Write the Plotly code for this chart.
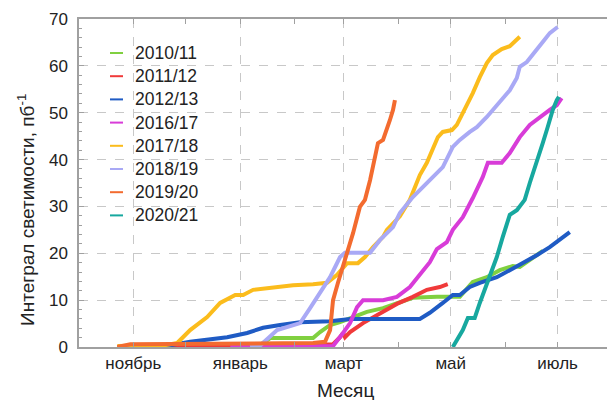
import plotly.graph_objects as go
import pandas as pd

# ---------------- data ----------------
seasons = ["2010/11", "2011/12", "2012/13", "2016/17", "2017/18", "2018/19", "2019/20", "2020/21"]
colors = ["#80d040", "#f03a3a", "#1f5bc4", "#d83cd8", "#fbbc1c", "#a9a9f5", "#f36b2f", "#17a89f"]

month_labels = ["ноябрь", "январь", "март", "май", "июль"]
month_dates = ["2021-11-01", "2022-01-01", "2022-03-01", "2022-05-01", "2022-07-01"]
minor_dates = ["2021-12-01", "2022-02-01", "2022-04-01", "2022-06-01"]

# days counted from 1 October, integrated luminosity in pb^-1
days_1011 = [40.7, 103.3, 109.0, 133.5, 137.5, 143.2, 148.9, 156.3, 164.2, 173.4, 181.3, 190.4, 204.1, 217.2,
             224.6, 232.6, 240.0, 247.4, 251.4, 258.8, 264.5]
lumi_1011 = [0, 0.4, 1.9, 1.9, 3.2, 4.7, 5.3, 6.4, 7.5, 8.3, 9.4, 10.5, 10.7, 10.7,
             13.9, 14.9, 16.4, 17.3, 17.1, 19.0, 20.5]

days_1112 = [21.9, 40.7, 131.8, 144.9, 148.9, 150.6, 151.7, 154.6, 162.0, 170.0, 177.3, 181.3, 190.4,
             198.4, 205.8, 210.3]
lumi_1112 = [0, 0.2, 0.4, 0.6, 2.1, 3.0, 2.1, 3.2, 5.1, 6.8, 8.5, 9.2, 10.7,
             12.2, 12.8, 13.4]

days_1213 = [21.9, 52.1, 63.4, 74.8, 84.5, 95.9, 105.0, 114.7, 126.1, 143.2, 154.6, 194.4, 200.1, 207.5,
             213.2, 217.2, 222.9, 228.6, 238.3, 245.7, 253.1, 261.1, 268.5, 279.9]
lumi_1213 = [0, 0.4, 1.1, 1.7, 2.1, 3.0, 4.1, 4.7, 5.3, 5.5, 6.0, 6.0, 7.3, 9.4,
             11.1, 11.1, 12.8, 13.7, 14.9, 16.4, 17.9, 19.6, 21.3, 24.5]

days_1617 = [86.3, 144.9, 150.6, 154.6, 158.6, 162.0, 173.4, 181.3, 188.7, 194.4, 200.1, 204.1, 209.8,
             213.2, 218.9, 224.6, 230.3, 233.2, 241.1, 245.7, 251.4, 257.1, 262.8, 268.5, 272.5, 275.3]
lumi_1617 = [0, 0.2, 3.0, 5.1, 8.5, 10.0, 10.0, 10.7, 12.8, 15.4, 18.1, 20.9, 22.4,
             25.0, 27.7, 31.8, 36.3, 39.3, 39.3, 41.4, 44.8, 47.4, 49.1, 50.6, 51.6, 53.1]

days_1718 = [21.9, 49.2, 56.0, 63.4, 73.1, 80.5, 89.1, 93.6, 99.3, 110.7, 122.1, 133.5, 141.5, 147.2,
             152.9, 159.1, 163.1, 167.7, 173.4, 175.6, 181.3, 183.0, 188.7, 192.7, 194.4, 198.4, 201.8,
             204.7, 207.5, 212.7, 215.5, 218.9, 224.6, 228.6, 232.6, 236.0, 241.1, 245.7, 251.4]
lumi_1718 = [0.2, 0.4, 0.85, 3.6, 6.4, 9.4, 11.1, 11.1, 12.2, 12.8, 13.2, 13.4, 13.7, 15.4,
             17.9, 17.9, 19.2, 21.3, 23.5, 25.0, 27.2, 27.9, 31.4, 35.0, 36.7, 39.3, 42.0,
             44.8, 45.9, 46.3, 47.4, 49.9, 54.2, 57.6, 60.6, 62.3, 63.6, 64.2, 66.2]

days_1819 = [97.6, 103.3, 113.0, 118.7, 126.1, 131.8, 137.5, 143.2, 148.9, 151.7, 166.0, 171.6, 179.1,
             183.0, 190.4, 200.1, 207.5, 213.2, 217.2, 222.9, 226.9, 232.6, 238.3, 245.7, 249.7, 251.4,
             255.4, 258.8, 264.5, 268.5, 273.0]
lumi_1819 = [0, 0.3, 3.6, 4.3, 5.1, 8.3, 11.5, 14.9, 19.2, 20.1, 20.1, 22.8, 25.6,
             28.6, 32.0, 35.6, 38.4, 42.7, 44.2, 45.9, 46.9, 49.1, 51.6, 54.8, 57.4, 59.8,
             60.8, 62.3, 65.1, 67.0, 68.3]

days_1920 = [21.9, 29.3, 133.5, 140.3, 143.2, 144.9, 147.7, 150.6, 153.4, 156.3, 160.2, 163.1, 166.0,
             168.8, 170.5, 173.4, 175.6, 177.3, 179.1, 180.2]
lumi_1920 = [0, 0.6, 0.85, 1.1, 3.6, 10.0, 13.7, 17.1, 20.7, 24.3, 29.9, 31.4, 35.6,
             40.5, 43.5, 44.2, 46.3, 48.4, 50.6, 52.7]

days_2021 = [213.2, 218.9, 221.8, 225.7, 228.6, 234.3, 238.3, 241.7, 245.7, 249.7, 254.2, 257.1, 261.1,
             264.5, 267.3, 270.2, 272.5, 273.7]
lumi_2021 = [0, 3.6, 6.2, 6.2, 9.4, 14.9, 19.2, 23.5, 28.2, 29.2, 31.4, 35.0, 39.3,
             43.5, 46.9, 50.6, 52.7, 53.4]

series_days = [days_1011, days_1112, days_1213, days_1617, days_1718, days_1819, days_1920, days_2021]
series_lumi = [lumi_1011, lumi_1112, lumi_1213, lumi_1617, lumi_1718, lumi_1819, lumi_1920, lumi_2021]

x_title = "Месяц"
y_title = "Интеграл светимости, пб<sup>-1</sup>"

BASE = pd.Timestamp("2021-10-01")


def to_dates(days):
    return [BASE + pd.Timedelta(days=d) for d in days]


FONT = "Liberation Sans, Arial, sans-serif"
TXT = "#222222"
GRID = "#c8c8c8"
AXIS = "#a0a0a0"

fig = go.Figure()
for name, col, d, v in zip(seasons, colors, series_days, series_lumi):
    fig.add_trace(go.Scatter(x=to_dates(d), y=v, mode="lines", name=name,
                             line=dict(color=col, width=4), showlegend=False))

# plot-area geometry in window pixels (page body has an 8px margin)
OFF = 8
L, R, T, B = 79, 612, 19, 347
W, H = R - L, B - T
FIG_W, FIG_H = 615 - OFF, 400 - OFF


def px_x(px):
    return (px - L) / W


def px_y(py):
    return (B - py) / H


# manual legend (short thin line + label)
for i, (name, col) in enumerate(zip(seasons, colors)):
    py = 53 + 23.2 * i
    fig.add_shape(type="line", xref="paper", yref="paper",
                  x0=px_x(110), x1=px_x(123), y0=px_y(py), y1=px_y(py),
                  line=dict(color=col, width=2))
    fig.add_annotation(xref="paper", yref="paper", x=px_x(133), y=px_y(py),
                       text=name, showarrow=False, xanchor="left", yanchor="middle",
                       font=dict(family=FONT, size=17.5, color=TXT))

# axis titles
fig.add_annotation(xref="paper", yref="paper", x=px_x(345), y=px_y(390),
                   text=x_title, showarrow=False, xanchor="center", yanchor="middle",
                   font=dict(family=FONT, size=19, color=TXT))
fig.add_annotation(xref="paper", yref="paper", x=px_x(26), y=px_y(210),
                   text=y_title, showarrow=False, xanchor="center", yanchor="middle",
                   textangle=-90, font=dict(family=FONT, size=19, color=TXT))

fig.update_layout(
    width=FIG_W, height=FIG_H,
    margin=dict(l=L - OFF, r=FIG_W - (R - OFF), t=T - OFF, b=FIG_H - (B - OFF), autoexpand=False),
    paper_bgcolor="white", plot_bgcolor="white",
    font=dict(family=FONT, size=17, color=TXT),
    xaxis=dict(
        type="date", range=["2021-10-01", "2022-08-01"], automargin=False,
        tickmode="array", tickvals=month_dates, ticktext=month_labels,
        ticks="inside", ticklen=5, tickcolor=AXIS,
        showline=True, linecolor=AXIS, linewidth=1.5, mirror="ticks",
        showgrid=True, gridcolor=GRID, griddash="dash", gridwidth=1,
        zeroline=False,
        minor=dict(tickmode="array", tickvals=minor_dates, ticks="inside", ticklen=5,
                   tickcolor=AXIS, showgrid=False),
        tickfont=dict(size=17),
    ),
    yaxis=dict(
        range=[0, 70], tickmode="linear", tick0=0, dtick=10, automargin=False,
        ticks="inside", ticklen=5, tickcolor=AXIS,
        showline=True, linecolor=AXIS, linewidth=1.5, mirror="ticks",
        showgrid=True, gridcolor=GRID, griddash="dash", gridwidth=1,
        zeroline=False,
        minor=dict(tickmode="linear", tick0=0, dtick=2, ticks="inside", ticklen=3,
                   tickcolor=AXIS, showgrid=False),
        tickfont=dict(size=17),
        ticklabelstandoff=6,
    ),
)

fig.write_html("out.html")
